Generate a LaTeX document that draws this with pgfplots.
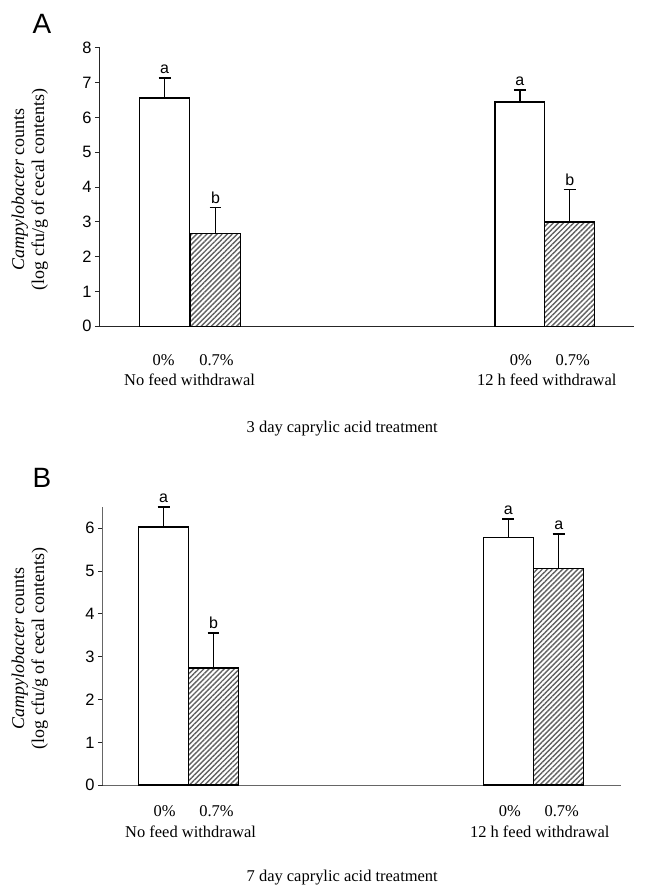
\documentclass[border=0pt]{standalone}
\usepackage{fontspec}
\setmainfont{Liberation Serif}
\newfontfamily\arial{Liberation Sans}
\usepackage{pgfplots}
\pgfplotsset{compat=1.18}
\usetikzlibrary{patterns.meta}

\newcommand{\serif}{\fontsize{16.5}{19}\selectfont}
\newcommand{\ylabf}{\fontsize{18}{20}\selectfont}
\newcommand{\tickf}{\arial\fontsize{16.5}{18}\selectfont}

\pgfplotsset{
  panel/.style={
    scale only axis,
    clip=false,
    axis x line=bottom,
    axis y line=left,
    axis line style={-, line width=1.1pt, draw=black!85},
    xtick=\empty,
    tick align=outside,
    major tick length=5pt,
    ytick style={line width=1pt, draw=black!85},
    yticklabel style={font=\tickf, inner sep=3pt},
    /pgf/number format/assume math mode=true,
  },
  whitebar/.style={ybar, bar shift=0pt, bar width=50, fill=white, draw=black, line width=1.4pt,
    error bars/.cd, y dir=plus, y explicit,
    error bar style={line width=1.4pt, black},
    error mark options={rotate=90, mark size=6pt, line width=1.4pt, black}},
  hatchbar/.style={ybar, bar shift=0pt, bar width=50, draw=black, line width=1.4pt,
    pattern={Lines[angle=45, distance=3.6pt, line width=1.4pt]}, pattern color=black!62,
    error bars/.cd, y dir=plus, y explicit,
    error bar style={line width=1.4pt, black},
    error mark options={rotate=90, mark size=6pt, line width=1.4pt, black}},
  letters/.style={draw=none, nodes near coords, point meta=explicit symbolic,
    nodes near coords style={font=\arial\fontsize{16}{18}\selectfont, anchor=south, inner sep=1pt, yshift=3pt}},
}

\begin{document}
\begin{tikzpicture}
\path (0,0) rectangle (657pt,888pt);

% Panel A
\begin{axis}[panel,
  at={(100pt,561pt)}, anchor=south west,
  width=535pt, height=279pt,
  xmin=0, xmax=535, ymin=0, ymax=8,
  ytick={0,1,...,8},
]
\addplot[whitebar] coordinates {(65,6.56) +- (0,0.57) (421,6.45) +- (0,0.34)};
\addplot[hatchbar] coordinates {(116,2.66) +- (0,0.75) (471,3.00) +- (0,0.93)};
\addplot[letters] coordinates {(65,7.13)[a] (116,3.41)[b] (421,6.79)[a] (471,3.93)[b]};
\node[font=\serif, anchor=base] at (axis cs:64,-1.12) {0\%};
\node[font=\serif, anchor=base] at (axis cs:117,-1.12) {0.7\%};
\node[font=\serif, anchor=base] at (axis cs:422,-1.12) {0\%};
\node[font=\serif, anchor=base] at (axis cs:474,-1.12) {0.7\%};
\node[font=\serif, anchor=base] at (axis cs:90,-1.69) {No feed withdrawal};
\node[font=\serif, anchor=base] at (axis cs:448,-1.69) {12 h feed withdrawal};
\node[font=\serif, anchor=base] at (axis cs:243,-3.04) {3 day caprylic acid treatment};
\end{axis}

% Panel B
\begin{axis}[panel,
  at={(103pt,101pt)}, anchor=south west,
  width=519pt, height=279pt,
  xmin=0, xmax=519, ymin=0, ymax=6.5,
  ytick={0,1,...,6},
  axis line style={-, line width=1.1pt, draw=black!60},
]
\addplot[whitebar] coordinates {(61,6.03) +- (0,0.47) (406.5,5.78) +- (0,0.44)};
\addplot[hatchbar] coordinates {(111,2.74) +- (0,0.81) (457,5.06) +- (0,0.81)};
\addplot[letters] coordinates {(61,6.50)[a] (111,3.55)[b] (406.5,6.22)[a] (457,5.87)[a]};
\node[font=\serif, anchor=base] at (axis cs:62,-0.72) {0\%};
\node[font=\serif, anchor=base] at (axis cs:114,-0.72) {0.7\%};
\node[font=\serif, anchor=base] at (axis cs:408,-0.72) {0\%};
\node[font=\serif, anchor=base] at (axis cs:460,-0.72) {0.7\%};
\node[font=\serif, anchor=base] at (axis cs:88,-1.21) {No feed withdrawal};
\node[font=\serif, anchor=base] at (axis cs:438,-1.21) {12 h feed withdrawal};
\node[font=\serif, anchor=base] at (axis cs:240,-2.24) {7 day caprylic acid treatment};
\end{axis}

% y labels and panel letters
\node[rotate=90, align=center, font=\ylabf, inner sep=0pt] at (30pt,698pt)
  {\textit{Campylobacter} counts\\(log cfu/g of cecal contents)};
\node[rotate=90, align=center, font=\ylabf, inner sep=0pt] at (30pt,238pt)
  {\textit{Campylobacter} counts\\(log cfu/g of cecal contents)};
\node[font=\arial\fontsize{28}{30}\selectfont, inner sep=0pt] at (42pt,864pt) {A};
\node[font=\arial\fontsize{28}{30}\selectfont, inner sep=0pt] at (42pt,409pt) {B};
\end{tikzpicture}
\end{document}
